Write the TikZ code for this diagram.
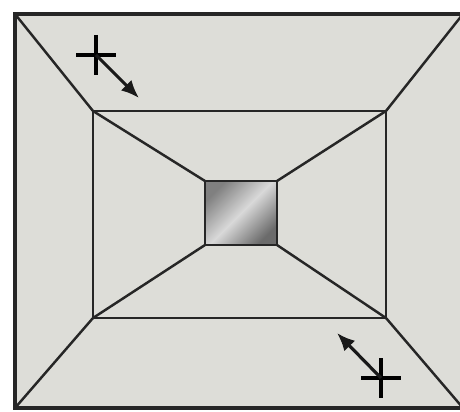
\documentclass[tikz,border=0pt]{standalone}
\usetikzlibrary{arrows.meta,calc}
\definecolor{wallgray}{RGB}{221,221,216}
\tikzset{
  frm/.style={draw=black!85,fill=wallgray,line width=2.4pt},
  edg/.style={draw=black!85,line width=1.4pt},
  hole/.style={draw=black!85,line width=1.4pt,left color=black!50,right color=black!58,middle color=black!15,shading angle=45},
  mv/.style={-{Latex[length=3.6mm,width=3mm]},line width=1.8pt,draw=black!90},
  crs/.style={draw=black,line width=2.3pt},
}
\begin{document}
\begin{tikzpicture}[x=0.02cm,y=-0.02cm]
\useasboundingbox (0,0) rectangle (460,412);
\clip (0,0) rectangle (460,412);
% ---- outer frame, inner frame and centre square
\coordinate (o1) at (15,14);  \coordinate (o2) at (463,14);
\coordinate (o3) at (463,408); \coordinate (o4) at (15,408);
\coordinate (i1) at (93,111);  \coordinate (i2) at (386,111);
\coordinate (i3) at (386,318); \coordinate (i4) at (93,318);
\coordinate (c1) at (205,181); \coordinate (c2) at (277,181);
\coordinate (c3) at (277,245); \coordinate (c4) at (205,245);
\draw[frm] (o1) rectangle (o3);
\draw[edg] (i1) rectangle (i3);
\draw[edg] (o1)--(i1) (o2)--(i2) (o3)--(i3) (o4)--(i4);
\draw[edg] (i1)--(c1) (i2)--(c2) (i3)--(c3) (i4)--(c4);
\shade[hole] (c1) rectangle (c3);
% ---- movement marks
\coordinate (p1) at (96,55);   \coordinate (p2) at (381,378);
\draw[crs] ($(p1)+(-20,0)$) -- ++(40,0) ($(p1)+(0,-20)$) -- ++(0,40);
\draw[crs] ($(p2)+(-20,0)$) -- ++(40,0) ($(p2)+(0,-20)$) -- ++(0,40);
\coordinate (b1) at (139,98);  \coordinate (b2) at (337,333);
\draw[mv] (p1) -- (b1);
\draw[mv] (p2) -- (b2);
\end{tikzpicture}
\end{document}
